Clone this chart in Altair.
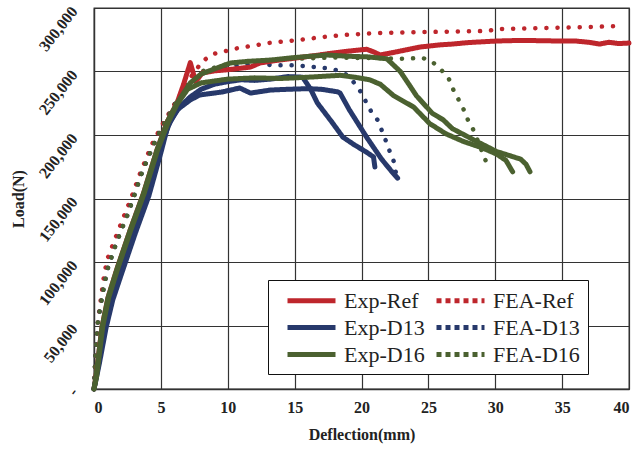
import altair as alt
import pandas as pd

# ---- data (deflection in mm, load in N) ----
exp_ref_x = [0, 0.15, 0.3, 0.6, 1.05, 1.7, 2.7, 3.7, 4.7, 5.5, 6.2, 6.7, 7.2, 7.6, 8.1, 9.0, 9.6,
             10.5, 11.7, 12.4, 13.5, 15.0, 16.5, 17.9, 19.0, 19.9, 20.4, 21.0, 21.4, 22.4, 24.4,
             25.9, 26.8, 28.0, 30.1, 32.0, 34.8, 36.0, 37.0, 37.8, 38.5, 39.2, 40.0]
exp_ref_y = [0, 10000, 23000, 49000, 72000, 94000, 125000, 154000, 188000, 211000, 225000, 240000,
             257000, 242000, 248800, 250500, 251000, 252000, 253500, 256700, 258500, 260500, 262500,
             264600, 266000, 267000, 267500, 265000, 263000, 265000, 269300, 271000, 271600, 272800,
             274000, 274500, 274000, 274000, 273000, 271600, 273000, 272000, 272400]

exp_d13a_x = [0, 0.35, 0.8, 1.3, 2.0, 3.0, 4.0, 4.9, 5.7, 6.4, 7.2, 8.0, 9.0, 10.0, 11.0, 12.0, 13.2,
              14.5, 15.6, 16.2, 16.7, 17.8, 18.6, 19.5, 20.3, 20.9, 21.0]
exp_d13a_y = [0, 20000, 49000, 72000, 94000, 125000, 154000, 188000, 211000, 222000, 230000, 236000,
              240000, 242000, 243500, 243000, 244000, 246000, 245500, 236000, 225200, 210000, 198400,
              192000, 187000, 182700, 174800]

exp_d13b_x = [0, 0.4, 0.9, 1.4, 2.1, 3.1, 4.1, 5.0, 5.5, 6.2, 7.2, 7.9, 9.6, 10.9, 11.7, 13.2, 14.5,
              16.0, 17.0, 18.2, 18.4, 19.1, 20.4, 21.5, 22.2, 22.7]
exp_d13b_y = [0, 20000, 48000, 70000, 92000, 123000, 152000, 186000, 206300, 219700, 227600, 231500,
              233900, 237000, 233000, 235400, 236000, 236500, 236000, 234000, 233000, 219700, 198000,
              181000, 172000, 166000]

exp_d16a_x = [0, 0.15, 0.3, 0.6, 1.05, 1.7, 2.7, 3.7, 4.7, 5.5, 6.2, 7.2, 8.0, 9.0, 10.2, 11.5, 13.2,
              15.0, 17.4, 19.0, 20.5, 21.9, 22.9, 23.6, 24.1, 25.3, 26.1, 26.8, 28.6, 30.1, 31.3,
              31.9, 32.3, 32.6]
exp_d16a_y = [0, 10000, 23000, 49000, 72000, 94000, 125000, 154000, 188000, 211000, 225000, 241000,
              248000, 252000, 256700, 258000, 259000, 261000, 263000, 262000, 261500, 260000, 250000,
              239000, 231000, 217000, 212000, 205000, 195000, 187000, 183000, 181000, 177000, 171000]

exp_d16b_x = [0, 0.2, 0.35, 0.65, 1.1, 1.75, 2.75, 3.75, 4.75, 5.55, 6.2, 7.0, 8.0, 10.0, 12.0, 14.0,
              16.0, 18.4, 19.5, 20.6, 21.4, 22.4, 23.9, 25.1, 26.3, 27.6, 29.0, 30.1, 30.8, 31.3]
exp_d16b_y = [0, 10000, 23000, 49000, 72000, 94000, 125000, 154000, 188000, 210000, 224000, 236000,
              241000, 244000, 245000, 244500, 245500, 247000, 245500, 243500, 240000, 231000, 222000,
              209000, 201000, 195000, 190000, 185000, 180000, 171000]

fea_ref_x = [0, 0.1, 0.3, 0.7, 0.97, 1.6, 2.2, 2.8, 3.4, 4.3, 5.1, 6.2, 7.2, 8.1, 8.9, 9.6, 10.4,
             11.3, 12.2, 13.0, 15.0, 17.0, 18.6, 21.2, 24.4, 27.0, 29.4, 30.2, 33.0, 35.0, 37.0, 39.3]
fea_ref_y = [0, 25000, 54000, 85800, 101600, 119000, 135000, 151000, 168500, 192000, 208000, 227600,
             245000, 258000, 263800, 265400, 267700, 269300, 270900, 272400, 274500, 277000, 278700,
             280300, 281000, 281500, 281900, 283500, 284000, 284500, 285000, 285800]

fea_d13_x = [0, 0.1, 0.3, 0.7, 1.0, 1.5, 2.0, 2.5, 3.0, 3.5, 4.0, 4.7, 5.2, 6.2, 7.2, 8.0, 8.9, 10.0,
             11.1, 12.6, 13.2, 15.0, 16.5, 17.3, 18.2, 18.8, 19.4, 19.9, 20.3, 20.7, 21.2, 21.5,
             21.8, 22.1, 22.4, 22.65]
fea_d13_y = [0, 25000, 54000, 78000, 94000, 110000, 124000, 137000, 152000, 168000, 181000, 198000,
             208000, 227000, 243000, 249000, 252700, 254000, 255000, 256700, 255000, 255000, 253500,
             252700, 251000, 248000, 241700, 234600, 226800, 218900, 211800, 204000, 196000,
             187400, 179500, 166000]

fea_d16_x = [0, 0.1, 0.3, 0.7, 1.0, 1.5, 2.0, 2.5, 3.0, 3.5, 4.0, 4.7, 5.2, 6.2, 7.2, 8.0, 10.0,
             12.0, 15.0, 18.0, 21.0, 22.9, 24.6, 25.3, 25.9, 26.5, 26.8, 27.2, 27.6, 27.9, 28.3,
             28.6, 28.9, 29.2, 29.5]
fea_d16_y = [0, 25000, 54000, 78000, 94000, 110000, 124000, 137000, 152000, 168000, 181000, 198000,
             208000, 227000, 243000, 250000, 256000, 258000, 260000, 261000, 260500, 260000, 260600,
             257500, 252000, 245000, 237000, 229000, 221000, 213000, 205500, 198000, 190000,
             182000, 174000]

# legend order (column-major: Exp column, then FEA column)
series_names = ["Exp-Ref", "Exp-D13", "Exp-D16", "FEA-Ref", "FEA-D13", "FEA-D16"]
series_colors = ["#BE262C", "#27396B", "#4B6130", "#BE262C", "#27396B", "#4B6130"]
legend_dashes = [[1, 0], [1, 0], [1, 0], [5, 4], [5, 4], [5, 4]]
y_ticks = [0, 50000, 100000, 150000, 200000, 250000, 300000]
x_ticks = [0, 5, 10, 15, 20, 25, 30, 35, 40]


def frame(name, group, xs, ys):
    return pd.DataFrame({"series": name, "group": group, "x": xs, "y": ys,
                         "idx": list(range(len(xs)))})


exp_df = pd.concat([
    frame("Exp-Ref", "r1", exp_ref_x, exp_ref_y),
    frame("Exp-D13", "b1", exp_d13a_x, exp_d13a_y),
    frame("Exp-D13", "b2", exp_d13b_x, exp_d13b_y),
    frame("Exp-D16", "g1", exp_d16a_x, exp_d16a_y),
    frame("Exp-D16", "g2", exp_d16b_x, exp_d16b_y),
], ignore_index=True)

fea_df = pd.concat([
    frame("FEA-Ref", "fr", fea_ref_x, fea_ref_y),
    frame("FEA-D13", "fb", fea_d13_x, fea_d13_y),
    frame("FEA-D16", "fg", fea_d16_x, fea_d16_y),
], ignore_index=True)

FONT = "Liberation Serif"

x_enc = alt.X("x:Q", scale=alt.Scale(domain=[0, 40], nice=False),
              axis=alt.Axis(values=x_ticks, title="Deflection(mm)", grid=True, ticks=False,
                            labelFont=FONT, labelFontSize=16, labelFontWeight="bold",
                            labelColor="#222", labelPadding=10,
                            titleFont=FONT, titleFontSize=16, titleFontWeight="bold",
                            titleColor="#222", titlePadding=11))
y_enc = alt.Y("y:Q", scale=alt.Scale(domain=[0, 300000], nice=False),
              axis=alt.Axis(values=y_ticks, title="Load(N)", grid=True, ticks=False,
                            labelExpr="datum.value == 0 ? '-\u00a0' : format(datum.value, ',')",
                            labelAngle=-52, labelAlign="right", labelBaseline="middle",
                            labelFont=FONT, labelFontSize=16, labelFontWeight="bold",
                            labelColor="#222", labelPadding=20,
                            titleFont=FONT, titleFontSize=16, titleFontWeight="bold",
                            titleColor="#222", titleX=-76, titleY=190.5, titleAngle=270,
                            titleAlign="center", titleBaseline="middle"))

color_scale = alt.Scale(domain=series_names, range=series_colors)
legend = alt.Legend(title=None, orient="none", legendX=174, legendY=272, columns=2,
                    direction="vertical",
                    symbolType="M-0.1,0H4.7", symbolSize=400, symbolStrokeWidth=5,
                    labelFont=FONT, labelFontSize=22, labelColor="#222", labelOffset=43,
                    rowPadding=3, columnPadding=-8, padding=8,
                    strokeColor="#111", fillColor="white", labelLimit=200)

fea = alt.Chart(fea_df).mark_line(strokeWidth=4.5, strokeCap="round", strokeDash=[0.1, 11]).encode(
    x=x_enc, y=y_enc,
    color=alt.Color("series:N", scale=color_scale, legend=legend),
    detail="group:N",
    order="idx:Q",
)

exp = alt.Chart(exp_df).mark_line(strokeWidth=5, strokeCap="round", strokeJoin="round").encode(
    x=x_enc, y=y_enc,
    color=alt.Color("series:N", scale=color_scale, legend=legend),
    strokeDash=alt.StrokeDash("series:N", scale=alt.Scale(domain=series_names, range=legend_dashes),
                              legend=legend),
    detail="group:N",
    order="idx:Q",
)

chart = alt.layer(fea, exp).properties(
    width=535, height=381,
    background="white",
    autosize=alt.AutoSizeParams(type="none"),
    padding={"left": 94, "top": 8, "right": 10, "bottom": 60},
).configure_view(stroke="#333", strokeWidth=1.3).configure_axis(
    gridColor="#333", gridWidth=1.2, gridOpacity=1, domainColor="#333", domainWidth=1.3
)

chart.save("out.html", embed_options={"renderer": "svg", "actions": False})
